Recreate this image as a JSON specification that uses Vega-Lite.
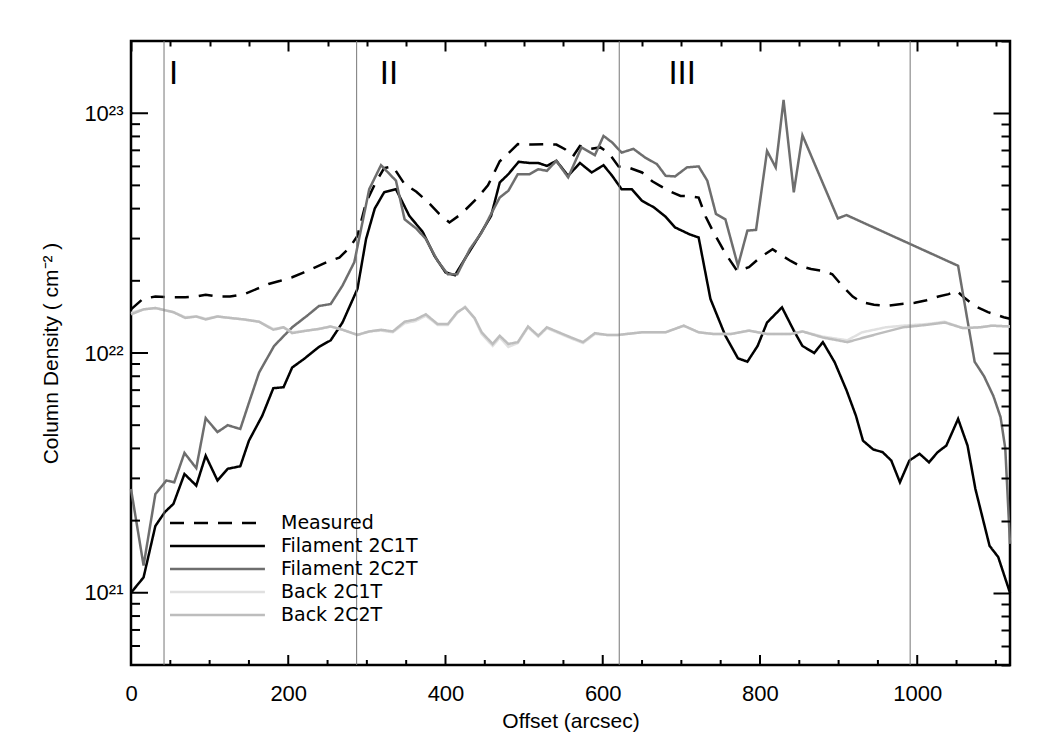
{
  "$schema": "https://vega.github.io/schema/vega-lite/v6.json",
  "width": 879,
  "height": 624,
  "autosize": {"type": "none"},
  "padding": {"left": 131, "top": 41, "right": 40, "bottom": 85},
  "background": "white",
  "config": {
    "view": {"stroke": "black", "strokeWidth": 2.5},
    "font": "Liberation Sans"
  },
  "datasets": {
    "bounds": [{"x": 42}, {"x": 287}, {"x": 621}, {"x": 991}],
    "regions": [
      {"label": "I", "x": 54, "y": 1.46e23},
      {"label": "II", "x": 328, "y": 1.46e23},
      {"label": "III", "x": 701, "y": 1.46e23}
    ],
    "xmajor": [{"v": 0}, {"v": 200}, {"v": 400}, {"v": 600}, {"v": 800}, {"v": 1000}],
    "xminor": [{"v": 50}, {"v": 100}, {"v": 150}, {"v": 250}, {"v": 300}, {"v": 350}, {"v": 450}, {"v": 500}, {"v": 550}, {"v": 650}, {"v": 700}, {"v": 750}, {"v": 850}, {"v": 900}, {"v": 950}, {"v": 1050}, {"v": 1100}],
    "ymajor": [{"v": 1e21}, {"v": 1e22}, {"v": 1e23}],
    "yminor": [{"v": 6e20}, {"v": 7e20}, {"v": 8e20}, {"v": 9e20}, {"v": 2e21}, {"v": 3e21}, {"v": 4e21}, {"v": 5e21}, {"v": 6e21}, {"v": 7e21}, {"v": 8e21}, {"v": 9e21}, {"v": 2e22}, {"v": 3e22}, {"v": 4e22}, {"v": 5e22}, {"v": 6e22}, {"v": 7e22}, {"v": 8e22}, {"v": 9e22}],
    "profiles": [
      {"s": "Measured", "x": 0, "y": 1.52e22},
      {"s": "Measured", "x": 15, "y": 1.68e22},
      {"s": "Measured", "x": 31, "y": 1.72e22},
      {"s": "Measured", "x": 50, "y": 1.71e22},
      {"s": "Measured", "x": 69, "y": 1.71e22},
      {"s": "Measured", "x": 82, "y": 1.72e22},
      {"s": "Measured", "x": 95, "y": 1.75e22},
      {"s": "Measured", "x": 110, "y": 1.72e22},
      {"s": "Measured", "x": 126, "y": 1.72e22},
      {"s": "Measured", "x": 144, "y": 1.76e22},
      {"s": "Measured", "x": 160, "y": 1.85e22},
      {"s": "Measured", "x": 175, "y": 1.94e22},
      {"s": "Measured", "x": 190, "y": 2.0e22},
      {"s": "Measured", "x": 205, "y": 2.07e22},
      {"s": "Measured", "x": 220, "y": 2.17e22},
      {"s": "Measured", "x": 235, "y": 2.28e22},
      {"s": "Measured", "x": 250, "y": 2.4e22},
      {"s": "Measured", "x": 265, "y": 2.5e22},
      {"s": "Measured", "x": 278, "y": 2.75e22},
      {"s": "Measured", "x": 288, "y": 3.08e22},
      {"s": "Measured", "x": 299, "y": 4.25e22},
      {"s": "Measured", "x": 312, "y": 5.2e22},
      {"s": "Measured", "x": 322, "y": 5.9e22},
      {"s": "Measured", "x": 333, "y": 6.0e22},
      {"s": "Measured", "x": 348, "y": 5.06e22},
      {"s": "Measured", "x": 363, "y": 4.7e22},
      {"s": "Measured", "x": 378, "y": 4.25e22},
      {"s": "Measured", "x": 392, "y": 3.8e22},
      {"s": "Measured", "x": 405, "y": 3.5e22},
      {"s": "Measured", "x": 420, "y": 3.8e22},
      {"s": "Measured", "x": 439, "y": 4.38e22},
      {"s": "Measured", "x": 454, "y": 5.0e22},
      {"s": "Measured", "x": 469, "y": 6.3e22},
      {"s": "Measured", "x": 480, "y": 6.8e22},
      {"s": "Measured", "x": 492, "y": 7.43e22},
      {"s": "Measured", "x": 510, "y": 7.4e22},
      {"s": "Measured", "x": 529, "y": 7.43e22},
      {"s": "Measured", "x": 541, "y": 7.4e22},
      {"s": "Measured", "x": 552, "y": 7.08e22},
      {"s": "Measured", "x": 562, "y": 6.6e22},
      {"s": "Measured", "x": 571, "y": 7.3e22},
      {"s": "Measured", "x": 585, "y": 7.1e22},
      {"s": "Measured", "x": 597, "y": 7.2e22},
      {"s": "Measured", "x": 608, "y": 6.8e22},
      {"s": "Measured", "x": 620, "y": 6.0e22},
      {"s": "Measured", "x": 635, "y": 5.9e22},
      {"s": "Measured", "x": 650, "y": 5.66e22},
      {"s": "Measured", "x": 663, "y": 5.2e22},
      {"s": "Measured", "x": 673, "y": 4.98e22},
      {"s": "Measured", "x": 687, "y": 4.7e22},
      {"s": "Measured", "x": 699, "y": 4.52e22},
      {"s": "Measured", "x": 712, "y": 4.5e22},
      {"s": "Measured", "x": 722, "y": 4.45e22},
      {"s": "Measured", "x": 731, "y": 3.7e22},
      {"s": "Measured", "x": 741, "y": 3.18e22},
      {"s": "Measured", "x": 756, "y": 2.6e22},
      {"s": "Measured", "x": 771, "y": 2.2e22},
      {"s": "Measured", "x": 786, "y": 2.28e22},
      {"s": "Measured", "x": 800, "y": 2.5e22},
      {"s": "Measured", "x": 816, "y": 2.71e22},
      {"s": "Measured", "x": 828, "y": 2.55e22},
      {"s": "Measured", "x": 839, "y": 2.42e22},
      {"s": "Measured", "x": 852, "y": 2.3e22},
      {"s": "Measured", "x": 865, "y": 2.24e22},
      {"s": "Measured", "x": 880, "y": 2.2e22},
      {"s": "Measured", "x": 892, "y": 2.13e22},
      {"s": "Measured", "x": 905, "y": 1.9e22},
      {"s": "Measured", "x": 918, "y": 1.72e22},
      {"s": "Measured", "x": 929, "y": 1.63e22},
      {"s": "Measured", "x": 945, "y": 1.59e22},
      {"s": "Measured", "x": 960, "y": 1.57e22},
      {"s": "Measured", "x": 980, "y": 1.6e22},
      {"s": "Measured", "x": 997, "y": 1.62e22},
      {"s": "Measured", "x": 1012, "y": 1.66e22},
      {"s": "Measured", "x": 1027, "y": 1.72e22},
      {"s": "Measured", "x": 1040, "y": 1.76e22},
      {"s": "Measured", "x": 1050, "y": 1.82e22},
      {"s": "Measured", "x": 1060, "y": 1.7e22},
      {"s": "Measured", "x": 1073, "y": 1.57e22},
      {"s": "Measured", "x": 1090, "y": 1.48e22},
      {"s": "Measured", "x": 1110, "y": 1.41e22},
      {"s": "Measured", "x": 1118, "y": 1.39e22},

      {"s": "Filament 2C1T", "x": 0, "y": 1.0e21},
      {"s": "Filament 2C1T", "x": 16, "y": 1.16e21},
      {"s": "Filament 2C1T", "x": 31, "y": 1.9e21},
      {"s": "Filament 2C1T", "x": 43, "y": 2.17e21},
      {"s": "Filament 2C1T", "x": 54, "y": 2.35e21},
      {"s": "Filament 2C1T", "x": 68, "y": 3.13e21},
      {"s": "Filament 2C1T", "x": 83, "y": 2.8e21},
      {"s": "Filament 2C1T", "x": 95, "y": 3.73e21},
      {"s": "Filament 2C1T", "x": 110, "y": 2.94e21},
      {"s": "Filament 2C1T", "x": 123, "y": 3.29e21},
      {"s": "Filament 2C1T", "x": 139, "y": 3.37e21},
      {"s": "Filament 2C1T", "x": 150, "y": 4.31e21},
      {"s": "Filament 2C1T", "x": 167, "y": 5.48e21},
      {"s": "Filament 2C1T", "x": 181, "y": 7.13e21},
      {"s": "Filament 2C1T", "x": 194, "y": 7.2e21},
      {"s": "Filament 2C1T", "x": 205, "y": 8.7e21},
      {"s": "Filament 2C1T", "x": 220, "y": 9.44e21},
      {"s": "Filament 2C1T", "x": 239, "y": 1.06e22},
      {"s": "Filament 2C1T", "x": 254, "y": 1.13e22},
      {"s": "Filament 2C1T", "x": 269, "y": 1.34e22},
      {"s": "Filament 2C1T", "x": 288, "y": 1.85e22},
      {"s": "Filament 2C1T", "x": 299, "y": 2.99e22},
      {"s": "Filament 2C1T", "x": 310, "y": 4.0e22},
      {"s": "Filament 2C1T", "x": 322, "y": 4.68e22},
      {"s": "Filament 2C1T", "x": 337, "y": 4.82e22},
      {"s": "Filament 2C1T", "x": 354, "y": 3.73e22},
      {"s": "Filament 2C1T", "x": 371, "y": 3.2e22},
      {"s": "Filament 2C1T", "x": 386, "y": 2.54e22},
      {"s": "Filament 2C1T", "x": 400, "y": 2.17e22},
      {"s": "Filament 2C1T", "x": 412, "y": 2.11e22},
      {"s": "Filament 2C1T", "x": 427, "y": 2.54e22},
      {"s": "Filament 2C1T", "x": 443, "y": 3.08e22},
      {"s": "Filament 2C1T", "x": 458, "y": 3.73e22},
      {"s": "Filament 2C1T", "x": 469, "y": 5.14e22},
      {"s": "Filament 2C1T", "x": 480, "y": 5.57e22},
      {"s": "Filament 2C1T", "x": 493, "y": 6.27e22},
      {"s": "Filament 2C1T", "x": 507, "y": 6.2e22},
      {"s": "Filament 2C1T", "x": 518, "y": 6.2e22},
      {"s": "Filament 2C1T", "x": 529, "y": 6.03e22},
      {"s": "Filament 2C1T", "x": 541, "y": 6.33e22},
      {"s": "Filament 2C1T", "x": 556, "y": 5.48e22},
      {"s": "Filament 2C1T", "x": 571, "y": 6.2e22},
      {"s": "Filament 2C1T", "x": 586, "y": 5.66e22},
      {"s": "Filament 2C1T", "x": 601, "y": 6.07e22},
      {"s": "Filament 2C1T", "x": 612, "y": 5.48e22},
      {"s": "Filament 2C1T", "x": 624, "y": 4.82e22},
      {"s": "Filament 2C1T", "x": 637, "y": 4.82e22},
      {"s": "Filament 2C1T", "x": 650, "y": 4.31e22},
      {"s": "Filament 2C1T", "x": 665, "y": 4.05e22},
      {"s": "Filament 2C1T", "x": 680, "y": 3.7e22},
      {"s": "Filament 2C1T", "x": 692, "y": 3.34e22},
      {"s": "Filament 2C1T", "x": 710, "y": 3.13e22},
      {"s": "Filament 2C1T", "x": 722, "y": 3.03e22},
      {"s": "Filament 2C1T", "x": 737, "y": 1.68e22},
      {"s": "Filament 2C1T", "x": 756, "y": 1.18e22},
      {"s": "Filament 2C1T", "x": 772, "y": 9.5e21},
      {"s": "Filament 2C1T", "x": 784, "y": 9.2e21},
      {"s": "Filament 2C1T", "x": 797, "y": 1.07e22},
      {"s": "Filament 2C1T", "x": 809, "y": 1.34e22},
      {"s": "Filament 2C1T", "x": 828, "y": 1.55e22},
      {"s": "Filament 2C1T", "x": 843, "y": 1.24e22},
      {"s": "Filament 2C1T", "x": 854, "y": 1.07e22},
      {"s": "Filament 2C1T", "x": 869, "y": 1.0e22},
      {"s": "Filament 2C1T", "x": 880, "y": 1.11e22},
      {"s": "Filament 2C1T", "x": 895, "y": 9.15e21},
      {"s": "Filament 2C1T", "x": 910, "y": 7.0e21},
      {"s": "Filament 2C1T", "x": 922, "y": 5.48e21},
      {"s": "Filament 2C1T", "x": 931, "y": 4.31e21},
      {"s": "Filament 2C1T", "x": 944, "y": 3.96e21},
      {"s": "Filament 2C1T", "x": 956, "y": 3.86e21},
      {"s": "Filament 2C1T", "x": 967, "y": 3.56e21},
      {"s": "Filament 2C1T", "x": 978, "y": 2.89e21},
      {"s": "Filament 2C1T", "x": 990, "y": 3.56e21},
      {"s": "Filament 2C1T", "x": 1003, "y": 3.8e21},
      {"s": "Filament 2C1T", "x": 1015, "y": 3.5e21},
      {"s": "Filament 2C1T", "x": 1026, "y": 3.86e21},
      {"s": "Filament 2C1T", "x": 1037, "y": 4.11e21},
      {"s": "Filament 2C1T", "x": 1052, "y": 5.31e21},
      {"s": "Filament 2C1T", "x": 1064, "y": 4.11e21},
      {"s": "Filament 2C1T", "x": 1074, "y": 2.71e21},
      {"s": "Filament 2C1T", "x": 1092, "y": 1.57e21},
      {"s": "Filament 2C1T", "x": 1103, "y": 1.41e21},
      {"s": "Filament 2C1T", "x": 1118, "y": 1.0e21},

      {"s": "Filament 2C2T", "x": 0, "y": 2.71e21},
      {"s": "Filament 2C2T", "x": 16, "y": 1.3e21},
      {"s": "Filament 2C2T", "x": 31, "y": 2.58e21},
      {"s": "Filament 2C2T", "x": 45, "y": 2.94e21},
      {"s": "Filament 2C2T", "x": 55, "y": 2.89e21},
      {"s": "Filament 2C2T", "x": 68, "y": 3.83e21},
      {"s": "Filament 2C2T", "x": 83, "y": 3.31e21},
      {"s": "Filament 2C2T", "x": 95, "y": 5.35e21},
      {"s": "Filament 2C2T", "x": 110, "y": 4.68e21},
      {"s": "Filament 2C2T", "x": 123, "y": 5.0e21},
      {"s": "Filament 2C2T", "x": 139, "y": 4.82e21},
      {"s": "Filament 2C2T", "x": 150, "y": 6.2e21},
      {"s": "Filament 2C2T", "x": 163, "y": 8.3e21},
      {"s": "Filament 2C2T", "x": 182, "y": 1.07e22},
      {"s": "Filament 2C2T", "x": 205, "y": 1.28e22},
      {"s": "Filament 2C2T", "x": 224, "y": 1.43e22},
      {"s": "Filament 2C2T", "x": 239, "y": 1.57e22},
      {"s": "Filament 2C2T", "x": 254, "y": 1.6e22},
      {"s": "Filament 2C2T", "x": 269, "y": 1.91e22},
      {"s": "Filament 2C2T", "x": 284, "y": 2.39e22},
      {"s": "Filament 2C2T", "x": 303, "y": 4.82e22},
      {"s": "Filament 2C2T", "x": 318, "y": 6.07e22},
      {"s": "Filament 2C2T", "x": 337, "y": 5.23e22},
      {"s": "Filament 2C2T", "x": 348, "y": 3.61e22},
      {"s": "Filament 2C2T", "x": 363, "y": 3.3e22},
      {"s": "Filament 2C2T", "x": 375, "y": 2.99e22},
      {"s": "Filament 2C2T", "x": 390, "y": 2.42e22},
      {"s": "Filament 2C2T", "x": 403, "y": 2.13e22},
      {"s": "Filament 2C2T", "x": 415, "y": 2.13e22},
      {"s": "Filament 2C2T", "x": 431, "y": 2.71e22},
      {"s": "Filament 2C2T", "x": 446, "y": 3.18e22},
      {"s": "Filament 2C2T", "x": 458, "y": 3.8e22},
      {"s": "Filament 2C2T", "x": 469, "y": 4.45e22},
      {"s": "Filament 2C2T", "x": 480, "y": 4.75e22},
      {"s": "Filament 2C2T", "x": 492, "y": 5.57e22},
      {"s": "Filament 2C2T", "x": 507, "y": 5.57e22},
      {"s": "Filament 2C2T", "x": 518, "y": 5.84e22},
      {"s": "Filament 2C2T", "x": 529, "y": 5.75e22},
      {"s": "Filament 2C2T", "x": 541, "y": 6.33e22},
      {"s": "Filament 2C2T", "x": 556, "y": 5.4e22},
      {"s": "Filament 2C2T", "x": 573, "y": 7.2e22},
      {"s": "Filament 2C2T", "x": 590, "y": 6.68e22},
      {"s": "Filament 2C2T", "x": 601, "y": 8.04e22},
      {"s": "Filament 2C2T", "x": 612, "y": 7.55e22},
      {"s": "Filament 2C2T", "x": 624, "y": 6.85e22},
      {"s": "Filament 2C2T", "x": 639, "y": 7.1e22},
      {"s": "Filament 2C2T", "x": 654, "y": 6.53e22},
      {"s": "Filament 2C2T", "x": 669, "y": 6.13e22},
      {"s": "Filament 2C2T", "x": 680, "y": 5.48e22},
      {"s": "Filament 2C2T", "x": 692, "y": 5.45e22},
      {"s": "Filament 2C2T", "x": 707, "y": 5.94e22},
      {"s": "Filament 2C2T", "x": 722, "y": 6.0e22},
      {"s": "Filament 2C2T", "x": 733, "y": 5.23e22},
      {"s": "Filament 2C2T", "x": 744, "y": 3.8e22},
      {"s": "Filament 2C2T", "x": 756, "y": 3.61e22},
      {"s": "Filament 2C2T", "x": 772, "y": 2.31e22},
      {"s": "Filament 2C2T", "x": 784, "y": 3.24e22},
      {"s": "Filament 2C2T", "x": 795, "y": 3.26e22},
      {"s": "Filament 2C2T", "x": 809, "y": 6.96e22},
      {"s": "Filament 2C2T", "x": 820, "y": 5.94e22},
      {"s": "Filament 2C2T", "x": 830, "y": 1.135e23},
      {"s": "Filament 2C2T", "x": 843, "y": 4.68e22},
      {"s": "Filament 2C2T", "x": 854, "y": 8.09e22},
      {"s": "Filament 2C2T", "x": 899, "y": 3.64e22},
      {"s": "Filament 2C2T", "x": 910, "y": 3.76e22},
      {"s": "Filament 2C2T", "x": 1052, "y": 2.31e22},
      {"s": "Filament 2C2T", "x": 1073, "y": 9.2e21},
      {"s": "Filament 2C2T", "x": 1085, "y": 8.0e21},
      {"s": "Filament 2C2T", "x": 1097, "y": 6.6e21},
      {"s": "Filament 2C2T", "x": 1106, "y": 5.4e21},
      {"s": "Filament 2C2T", "x": 1112, "y": 4.0e21},
      {"s": "Filament 2C2T", "x": 1118, "y": 1.6e21},

      {"s": "Back 2C1T", "x": 0, "y": 1.47e22},
      {"s": "Back 2C1T", "x": 16, "y": 1.52e22},
      {"s": "Back 2C1T", "x": 31, "y": 1.54e22},
      {"s": "Back 2C1T", "x": 54, "y": 1.48e22},
      {"s": "Back 2C1T", "x": 69, "y": 1.41e22},
      {"s": "Back 2C1T", "x": 83, "y": 1.42e22},
      {"s": "Back 2C1T", "x": 95, "y": 1.39e22},
      {"s": "Back 2C1T", "x": 110, "y": 1.42e22},
      {"s": "Back 2C1T", "x": 126, "y": 1.4e22},
      {"s": "Back 2C1T", "x": 144, "y": 1.38e22},
      {"s": "Back 2C1T", "x": 163, "y": 1.35e22},
      {"s": "Back 2C1T", "x": 181, "y": 1.26e22},
      {"s": "Back 2C1T", "x": 194, "y": 1.28e22},
      {"s": "Back 2C1T", "x": 205, "y": 1.22e22},
      {"s": "Back 2C1T", "x": 224, "y": 1.24e22},
      {"s": "Back 2C1T", "x": 239, "y": 1.26e22},
      {"s": "Back 2C1T", "x": 254, "y": 1.29e22},
      {"s": "Back 2C1T", "x": 269, "y": 1.25e22},
      {"s": "Back 2C1T", "x": 288, "y": 1.19e22},
      {"s": "Back 2C1T", "x": 303, "y": 1.23e22},
      {"s": "Back 2C1T", "x": 318, "y": 1.24e22},
      {"s": "Back 2C1T", "x": 333, "y": 1.22e22},
      {"s": "Back 2C1T", "x": 348, "y": 1.33e22},
      {"s": "Back 2C1T", "x": 362, "y": 1.36e22},
      {"s": "Back 2C1T", "x": 375, "y": 1.43e22},
      {"s": "Back 2C1T", "x": 390, "y": 1.31e22},
      {"s": "Back 2C1T", "x": 403, "y": 1.31e22},
      {"s": "Back 2C1T", "x": 415, "y": 1.47e22},
      {"s": "Back 2C1T", "x": 425, "y": 1.56e22},
      {"s": "Back 2C1T", "x": 437, "y": 1.39e22},
      {"s": "Back 2C1T", "x": 446, "y": 1.2e22},
      {"s": "Back 2C1T", "x": 460, "y": 1.07e22},
      {"s": "Back 2C1T", "x": 469, "y": 1.16e22},
      {"s": "Back 2C1T", "x": 480, "y": 1.06e22},
      {"s": "Back 2C1T", "x": 492, "y": 1.1e22},
      {"s": "Back 2C1T", "x": 505, "y": 1.28e22},
      {"s": "Back 2C1T", "x": 518, "y": 1.17e22},
      {"s": "Back 2C1T", "x": 529, "y": 1.27e22},
      {"s": "Back 2C1T", "x": 544, "y": 1.21e22},
      {"s": "Back 2C1T", "x": 560, "y": 1.15e22},
      {"s": "Back 2C1T", "x": 575, "y": 1.1e22},
      {"s": "Back 2C1T", "x": 590, "y": 1.2e22},
      {"s": "Back 2C1T", "x": 605, "y": 1.19e22},
      {"s": "Back 2C1T", "x": 620, "y": 1.19e22},
      {"s": "Back 2C1T", "x": 650, "y": 1.22e22},
      {"s": "Back 2C1T", "x": 680, "y": 1.22e22},
      {"s": "Back 2C1T", "x": 703, "y": 1.3e22},
      {"s": "Back 2C1T", "x": 722, "y": 1.22e22},
      {"s": "Back 2C1T", "x": 741, "y": 1.2e22},
      {"s": "Back 2C1T", "x": 763, "y": 1.2e22},
      {"s": "Back 2C1T", "x": 786, "y": 1.24e22},
      {"s": "Back 2C1T", "x": 809, "y": 1.2e22},
      {"s": "Back 2C1T", "x": 839, "y": 1.2e22},
      {"s": "Back 2C1T", "x": 854, "y": 1.23e22},
      {"s": "Back 2C1T", "x": 880, "y": 1.17e22},
      {"s": "Back 2C1T", "x": 911, "y": 1.13e22},
      {"s": "Back 2C1T", "x": 930, "y": 1.22e22},
      {"s": "Back 2C1T", "x": 960, "y": 1.28e22},
      {"s": "Back 2C1T", "x": 982, "y": 1.3e22},
      {"s": "Back 2C1T", "x": 1012, "y": 1.32e22},
      {"s": "Back 2C1T", "x": 1035, "y": 1.35e22},
      {"s": "Back 2C1T", "x": 1058, "y": 1.27e22},
      {"s": "Back 2C1T", "x": 1080, "y": 1.28e22},
      {"s": "Back 2C1T", "x": 1095, "y": 1.3e22},
      {"s": "Back 2C1T", "x": 1118, "y": 1.29e22},

      {"s": "Back 2C2T", "x": 0, "y": 1.45e22},
      {"s": "Back 2C2T", "x": 16, "y": 1.52e22},
      {"s": "Back 2C2T", "x": 31, "y": 1.54e22},
      {"s": "Back 2C2T", "x": 54, "y": 1.48e22},
      {"s": "Back 2C2T", "x": 69, "y": 1.4e22},
      {"s": "Back 2C2T", "x": 83, "y": 1.42e22},
      {"s": "Back 2C2T", "x": 95, "y": 1.38e22},
      {"s": "Back 2C2T", "x": 110, "y": 1.42e22},
      {"s": "Back 2C2T", "x": 126, "y": 1.4e22},
      {"s": "Back 2C2T", "x": 144, "y": 1.38e22},
      {"s": "Back 2C2T", "x": 163, "y": 1.35e22},
      {"s": "Back 2C2T", "x": 181, "y": 1.25e22},
      {"s": "Back 2C2T", "x": 194, "y": 1.28e22},
      {"s": "Back 2C2T", "x": 205, "y": 1.21e22},
      {"s": "Back 2C2T", "x": 224, "y": 1.24e22},
      {"s": "Back 2C2T", "x": 239, "y": 1.26e22},
      {"s": "Back 2C2T", "x": 254, "y": 1.29e22},
      {"s": "Back 2C2T", "x": 269, "y": 1.25e22},
      {"s": "Back 2C2T", "x": 288, "y": 1.19e22},
      {"s": "Back 2C2T", "x": 303, "y": 1.23e22},
      {"s": "Back 2C2T", "x": 318, "y": 1.25e22},
      {"s": "Back 2C2T", "x": 333, "y": 1.23e22},
      {"s": "Back 2C2T", "x": 348, "y": 1.35e22},
      {"s": "Back 2C2T", "x": 362, "y": 1.38e22},
      {"s": "Back 2C2T", "x": 375, "y": 1.45e22},
      {"s": "Back 2C2T", "x": 390, "y": 1.32e22},
      {"s": "Back 2C2T", "x": 403, "y": 1.32e22},
      {"s": "Back 2C2T", "x": 415, "y": 1.48e22},
      {"s": "Back 2C2T", "x": 425, "y": 1.55e22},
      {"s": "Back 2C2T", "x": 437, "y": 1.4e22},
      {"s": "Back 2C2T", "x": 446, "y": 1.22e22},
      {"s": "Back 2C2T", "x": 460, "y": 1.09e22},
      {"s": "Back 2C2T", "x": 469, "y": 1.18e22},
      {"s": "Back 2C2T", "x": 480, "y": 1.09e22},
      {"s": "Back 2C2T", "x": 492, "y": 1.11e22},
      {"s": "Back 2C2T", "x": 505, "y": 1.29e22},
      {"s": "Back 2C2T", "x": 518, "y": 1.18e22},
      {"s": "Back 2C2T", "x": 529, "y": 1.28e22},
      {"s": "Back 2C2T", "x": 544, "y": 1.22e22},
      {"s": "Back 2C2T", "x": 560, "y": 1.16e22},
      {"s": "Back 2C2T", "x": 575, "y": 1.11e22},
      {"s": "Back 2C2T", "x": 590, "y": 1.21e22},
      {"s": "Back 2C2T", "x": 605, "y": 1.19e22},
      {"s": "Back 2C2T", "x": 620, "y": 1.19e22},
      {"s": "Back 2C2T", "x": 650, "y": 1.22e22},
      {"s": "Back 2C2T", "x": 680, "y": 1.22e22},
      {"s": "Back 2C2T", "x": 703, "y": 1.3e22},
      {"s": "Back 2C2T", "x": 722, "y": 1.22e22},
      {"s": "Back 2C2T", "x": 741, "y": 1.2e22},
      {"s": "Back 2C2T", "x": 763, "y": 1.2e22},
      {"s": "Back 2C2T", "x": 786, "y": 1.24e22},
      {"s": "Back 2C2T", "x": 809, "y": 1.2e22},
      {"s": "Back 2C2T", "x": 839, "y": 1.2e22},
      {"s": "Back 2C2T", "x": 854, "y": 1.23e22},
      {"s": "Back 2C2T", "x": 880, "y": 1.16e22},
      {"s": "Back 2C2T", "x": 911, "y": 1.11e22},
      {"s": "Back 2C2T", "x": 945, "y": 1.19e22},
      {"s": "Back 2C2T", "x": 982, "y": 1.28e22},
      {"s": "Back 2C2T", "x": 1012, "y": 1.31e22},
      {"s": "Back 2C2T", "x": 1035, "y": 1.34e22},
      {"s": "Back 2C2T", "x": 1058, "y": 1.27e22},
      {"s": "Back 2C2T", "x": 1080, "y": 1.28e22},
      {"s": "Back 2C2T", "x": 1095, "y": 1.3e22},
      {"s": "Back 2C2T", "x": 1118, "y": 1.29e22}
    ]
  },
  "layer": [
    {
      "data": {"name": "profiles"},
      "mark": {"type": "line", "strokeWidth": 2.5},
      "encoding": {
        "x": {
          "field": "x", "type": "quantitative",
          "scale": {"domain": [0, 1118], "nice": false, "zero": false},
          "axis": {
            "orient": "bottom",
            "values": [0, 200, 400, 600, 800, 1000],
            "format": "d",
            "domain": false, "grid": false, "ticks": false, "tickSize": 0,
            "labelFont": "Liberation Sans", "labelFontSize": 22, "labelColor": "black",
            "labelPadding": 18, "labelFlush": false, "labelOverlap": false,
            "title": "Offset (arcsec)", "titleFont": "Liberation Sans", "titleFontSize": 21,
            "titleFontWeight": "normal", "titleColor": "black", "titlePadding": 6
          }
        },
        "y": {
          "field": "y", "type": "quantitative",
          "scale": {"type": "log", "domain": [5e20, 2e23], "nice": false},
          "axis": {
            "orient": "left",
            "values": [1e21, 1e22, 1e23],
            "domain": false, "grid": false, "ticks": false, "tickSize": 0,
            "labelExpr": "datum.value === 1e21 ? '10²¹' : datum.value === 1e22 ? '10²²' : '10²³'",
            "labelFont": "Liberation Sans", "labelFontSize": 22, "labelColor": "black",
            "labelPadding": 8, "labelFlush": false, "labelOverlap": false,
            "title": "Column Density ( cm⁻² )", "titleFont": "Liberation Sans", "titleFontSize": 21,
            "titleFontWeight": "normal", "titleColor": "black", "titlePadding": 22
          }
        },
        "color": {
          "field": "s", "type": "nominal",
          "scale": {
            "domain": ["Measured", "Filament 2C1T", "Filament 2C2T", "Back 2C1T", "Back 2C2T"],
            "range": ["#000000", "#000000", "#6e6e6e", "#e0e0e0", "#bdbdbd"]
          },
          "legend": {
            "title": null, "orient": "none", "legendX": 26.5, "legendY": 469.5,
            "symbolType": "M0,0H8.44", "symbolSize": 506, "symbolStrokeWidth": 2.5,
            "labelFont": "DejaVu Sans", "labelFontSize": 19, "labelColor": "black",
            "labelOffset": 98.5, "rowPadding": 0, "padding": 0, "labelLimit": 400
          }
        },
        "strokeDash": {
          "field": "s", "type": "nominal",
          "scale": {
            "domain": ["Measured", "Filament 2C1T", "Filament 2C2T", "Back 2C1T", "Back 2C2T"],
            "range": [[14, 10], [1, 0], [1, 0], [1, 0], [1, 0]]
          },
          "legend": {
            "title": null, "orient": "none", "legendX": 26.5, "legendY": 469.5,
            "symbolType": "M0,0H8.44", "symbolSize": 506, "symbolStrokeWidth": 2.5,
            "labelFont": "DejaVu Sans", "labelFontSize": 19, "labelColor": "black",
            "labelOffset": 98.5, "rowPadding": 0, "padding": 0, "labelLimit": 400
          }
        }
      }
    },
    {
      "data": {"name": "regions"},
      "mark": {"type": "text", "font": "Liberation Sans", "fontSize": 33, "align": "center", "baseline": "middle", "color": "black"},
      "encoding": {
        "x": {"field": "x", "type": "quantitative", "axis": null,
              "scale": {"domain": [0, 1118], "nice": false, "zero": false}},
        "y": {"field": "y", "type": "quantitative", "axis": null,
              "scale": {"type": "log", "domain": [5e20, 2e23], "nice": false}},
        "text": {"field": "label"}
      }
    },
    {
      "data": {"name": "xmajor"},
      "mark": {"type": "tick", "orient": "vertical", "size": 20, "thickness": 2, "color": "black", "opacity": 1, "clip": true},
      "encoding": {
        "x": {"field": "v", "type": "quantitative", "axis": null,
              "scale": {"domain": [0, 1118], "nice": false, "zero": false}},
        "y": {"datum": 5e20, "type": "quantitative", "axis": null,
              "scale": {"type": "log", "domain": [5e20, 2e23], "nice": false}}
      }
    },
    {
      "data": {"name": "xminor"},
      "mark": {"type": "tick", "orient": "vertical", "size": 10, "thickness": 2, "color": "black", "opacity": 1, "clip": true},
      "encoding": {
        "x": {"field": "v", "type": "quantitative", "axis": null,
              "scale": {"domain": [0, 1118], "nice": false, "zero": false}},
        "y": {"datum": 5e20, "type": "quantitative", "axis": null,
              "scale": {"type": "log", "domain": [5e20, 2e23], "nice": false}}
      }
    },
    {
      "data": {"name": "ymajor"},
      "mark": {"type": "tick", "orient": "horizontal", "size": 34, "thickness": 2, "color": "black", "opacity": 1, "clip": true},
      "encoding": {
        "y": {"field": "v", "type": "quantitative", "axis": null,
              "scale": {"type": "log", "domain": [5e20, 2e23], "nice": false}},
        "x": {"datum": 0, "type": "quantitative", "axis": null,
              "scale": {"domain": [0, 1118], "nice": false, "zero": false}}
      }
    },
    {
      "data": {"name": "yminor"},
      "mark": {"type": "tick", "orient": "horizontal", "size": 18, "thickness": 2, "color": "black", "opacity": 1, "clip": true},
      "encoding": {
        "y": {"field": "v", "type": "quantitative", "axis": null,
              "scale": {"type": "log", "domain": [5e20, 2e23], "nice": false}},
        "x": {"datum": 0, "type": "quantitative", "axis": null,
              "scale": {"domain": [0, 1118], "nice": false, "zero": false}}
      }
    },
    {
      "data": {"name": "bounds"},
      "mark": {"type": "rule", "color": "#777777", "strokeWidth": 1},
      "encoding": {
        "x": {
          "field": "x", "type": "quantitative",
          "scale": {"domain": [0, 1118], "nice": false, "zero": false},
          "axis": {
            "orient": "top", "zindex": 1,
            "values": [0, 50, 100, 150, 200, 250, 300, 350, 400, 450, 500, 550, 600, 650, 700, 750, 800, 850, 900, 950, 1000, 1050, 1100],
            "domain": false, "grid": false, "labels": false, "title": null, "ticks": true,
            "tickColor": "black", "tickWidth": 2,
            "tickSize": {"condition": {"test": "datum.value % 200 === 0", "value": -10}, "value": -5}
          }
        },
        "y": {
          "datum": 5e20, "type": "quantitative",
          "scale": {"type": "log", "domain": [5e20, 2e23], "nice": false},
          "axis": {
            "orient": "right", "zindex": 1,
            "values": [5e20, 6e20, 7e20, 8e20, 9e20, 1e21, 2e21, 3e21, 4e21, 5e21, 6e21, 7e21, 8e21, 9e21, 1e22, 2e22, 3e22, 4e22, 5e22, 6e22, 7e22, 8e22, 9e22, 1e23, 2e23],
            "domain": false, "grid": false, "labels": false, "title": null, "ticks": true,
            "tickColor": "black", "tickWidth": 2,
            "tickSize": {"condition": {"test": "datum.value === 1e21 || datum.value === 1e22 || datum.value === 1e23", "value": -17}, "value": -9}
          }
        },
        "y2": {"datum": 2e23}
      }
    }
  ],
  "resolve": {"axis": {"x": "independent", "y": "independent"}}
}
